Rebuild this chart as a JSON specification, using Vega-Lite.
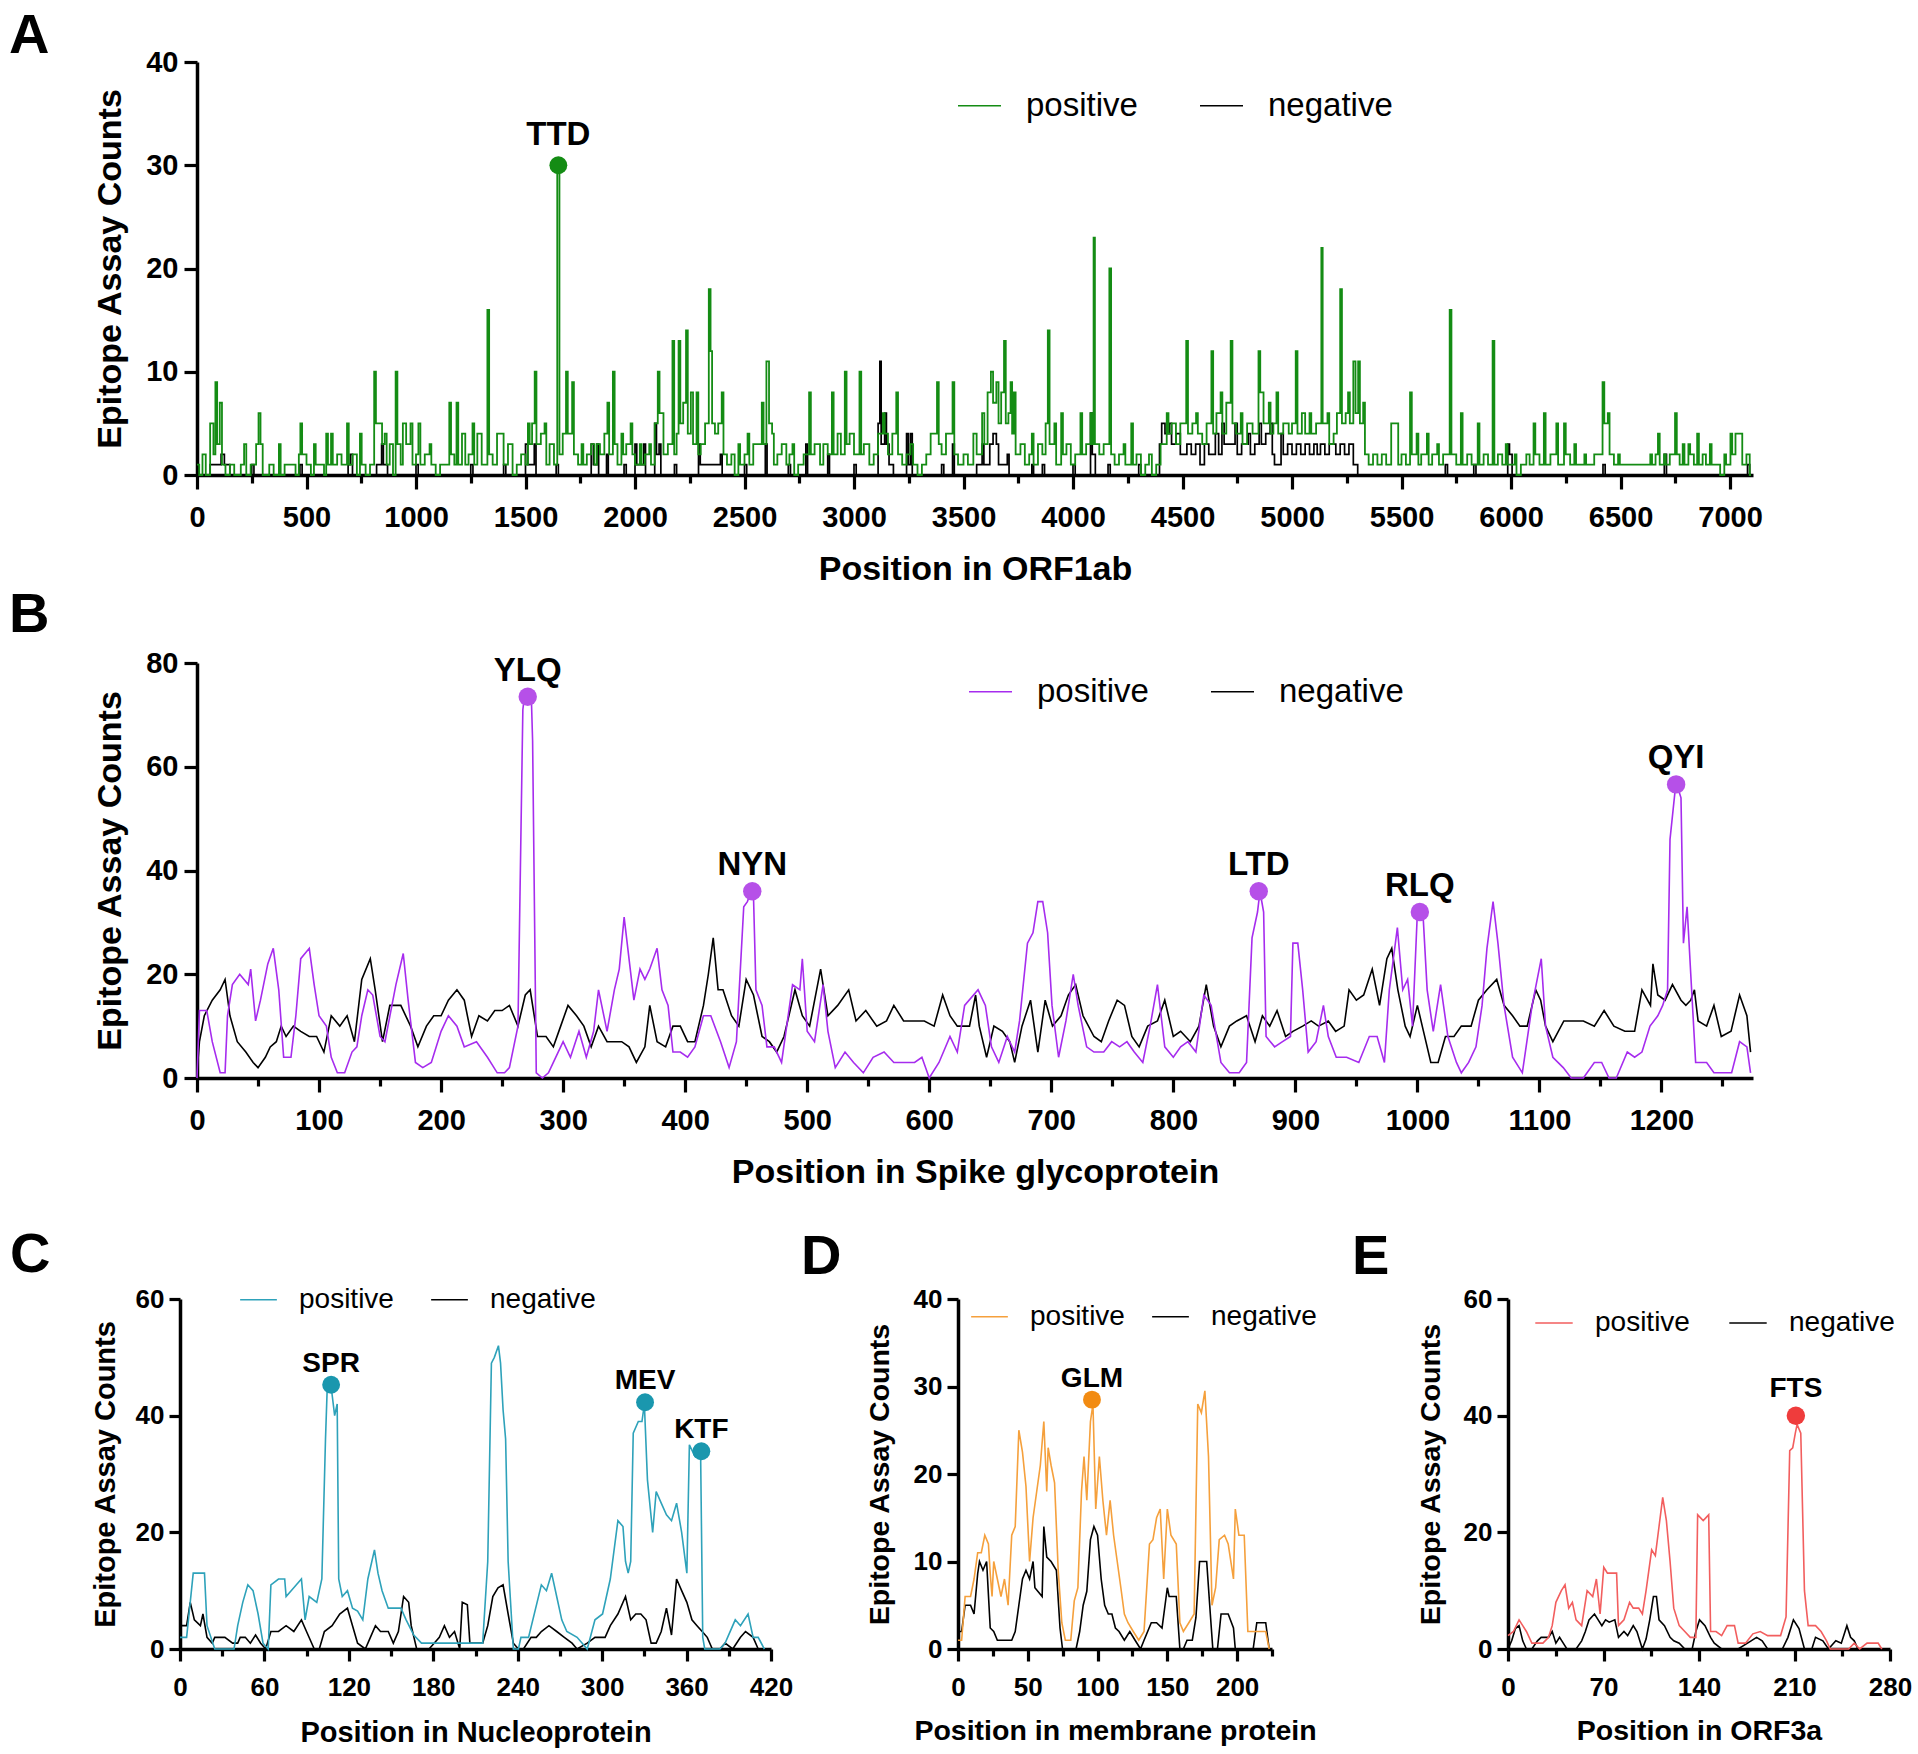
{
  "$schema": "https://vega.github.io/schema/vega-lite/v6.json",
  "background": "white",
  "padding": {"left": 9, "top": 8, "right": 5, "bottom": 5},
  "bounds": "flush",
  "spacing": 188,
  "config": {
    "font": "Liberation Sans",
    "view": {"stroke": null},
    "axis": {"grid": false, "domainColor": "#000000", "domainWidth": 3.5, "tickColor": "#000000", "tickWidth": 3.2, "labelColor": "#000000", "labelFontWeight": "bold", "titleColor": "#000000", "titleFontWeight": "bold", "labelFlush": false, "labelOverlap": false},
    "title": {"anchor": "start", "frame": "group", "fontSize": 56, "fontWeight": "bold", "color": "#000000"},
    "line": {"strokeWidth": 1.6}
  },
  "datasets": {
    "aPos": [
      {"x":0,"y":1},{"x":10,"y":0},{"x":25,"y":2},{"x":40,"y":0},{"x":60,"y":5},{"x":75,"y":2},{"x":84,"y":9},{"x":92,"y":3},{"x":104,"y":7},{"x":114,"y":1},{"x":130,"y":0},{"x":150,"y":1},{"x":170,"y":0},{"x":200,"y":1},{"x":215,"y":3},{"x":225,"y":0},{"x":245,"y":1},{"x":270,"y":3},{"x":281,"y":6},{"x":290,"y":3},{"x":300,"y":0},{"x":330,"y":1},{"x":350,"y":0},{"x":374,"y":3},{"x":382,"y":0},{"x":400,"y":1},{"x":450,"y":0},{"x":465,"y":2},{"x":472,"y":5},{"x":480,"y":2},{"x":500,"y":1},{"x":520,"y":0},{"x":534,"y":3},{"x":542,"y":1},{"x":580,"y":0},{"x":590,"y":4},{"x":598,"y":1},{"x":612,"y":4},{"x":620,"y":1},{"x":640,"y":2},{"x":660,"y":1},{"x":685,"y":5},{"x":693,"y":1},{"x":710,"y":2},{"x":730,"y":0},{"x":744,"y":4},{"x":752,"y":1},{"x":770,"y":0},{"x":790,"y":1},{"x":809,"y":10},{"x":817,"y":5},{"x":845,"y":3},{"x":857,"y":4},{"x":866,"y":1},{"x":880,"y":3},{"x":895,"y":0},{"x":907,"y":10},{"x":915,"y":3},{"x":930,"y":1},{"x":940,"y":5},{"x":955,"y":3},{"x":975,"y":5},{"x":984,"y":1},{"x":1000,"y":2},{"x":1011,"y":5},{"x":1020,"y":1},{"x":1040,"y":2},{"x":1062,"y":3},{"x":1070,"y":1},{"x":1090,"y":0},{"x":1110,"y":1},{"x":1152,"y":7},{"x":1160,"y":2},{"x":1175,"y":1},{"x":1185,"y":7},{"x":1193,"y":1},{"x":1210,"y":4},{"x":1225,"y":1},{"x":1240,"y":2},{"x":1258,"y":5},{"x":1266,"y":1},{"x":1280,"y":4},{"x":1300,"y":1},{"x":1326,"y":16},{"x":1334,"y":2},{"x":1350,"y":1},{"x":1370,"y":4},{"x":1400,"y":1},{"x":1420,"y":3},{"x":1441,"y":0},{"x":1460,"y":1},{"x":1480,"y":2},{"x":1500,"y":1},{"x":1511,"y":5},{"x":1519,"y":3},{"x":1530,"y":5},{"x":1542,"y":10},{"x":1550,"y":3},{"x":1570,"y":4},{"x":1587,"y":5},{"x":1595,"y":1},{"x":1610,"y":3},{"x":1630,"y":1},{"x":1645,"y":30},{"x":1655,"y":2},{"x":1670,"y":4},{"x":1685,"y":10},{"x":1693,"y":4},{"x":1713,"y":9},{"x":1721,"y":2},{"x":1740,"y":1},{"x":1756,"y":3},{"x":1764,"y":1},{"x":1780,"y":2},{"x":1800,"y":3},{"x":1815,"y":1},{"x":1826,"y":3},{"x":1840,"y":2},{"x":1860,"y":4},{"x":1874,"y":7},{"x":1882,"y":2},{"x":1899,"y":10},{"x":1907,"y":3},{"x":1920,"y":1},{"x":1938,"y":4},{"x":1946,"y":2},{"x":1960,"y":3},{"x":1980,"y":5},{"x":1988,"y":2},{"x":2000,"y":1},{"x":2022,"y":3},{"x":2030,"y":1},{"x":2045,"y":2},{"x":2065,"y":3},{"x":2073,"y":1},{"x":2090,"y":5},{"x":2104,"y":10},{"x":2112,"y":6},{"x":2130,"y":2},{"x":2150,"y":3},{"x":2171,"y":13},{"x":2179,"y":2},{"x":2190,"y":4},{"x":2199,"y":13},{"x":2207,"y":5},{"x":2220,"y":7},{"x":2233,"y":14},{"x":2241,"y":4},{"x":2255,"y":8},{"x":2265,"y":3},{"x":2281,"y":8},{"x":2289,"y":2},{"x":2300,"y":3},{"x":2320,"y":5},{"x":2337,"y":18},{"x":2345,"y":12},{"x":2352,"y":5},{"x":2365,"y":4},{"x":2380,"y":5},{"x":2396,"y":8},{"x":2404,"y":2},{"x":2420,"y":1},{"x":2440,"y":2},{"x":2455,"y":0},{"x":2472,"y":3},{"x":2480,"y":1},{"x":2500,"y":2},{"x":2514,"y":4},{"x":2522,"y":1},{"x":2540,"y":3},{"x":2579,"y":7},{"x":2587,"y":3},{"x":2600,"y":11},{"x":2612,"y":5},{"x":2626,"y":4},{"x":2634,"y":1},{"x":2650,"y":2},{"x":2670,"y":3},{"x":2691,"y":1},{"x":2705,"y":2},{"x":2719,"y":3},{"x":2727,"y":0},{"x":2745,"y":1},{"x":2770,"y":2},{"x":2795,"y":8},{"x":2803,"y":2},{"x":2820,"y":3},{"x":2845,"y":1},{"x":2860,"y":3},{"x":2880,"y":2},{"x":2899,"y":8},{"x":2907,"y":2},{"x":2925,"y":4},{"x":2940,"y":2},{"x":2958,"y":10},{"x":2966,"y":3},{"x":2980,"y":4},{"x":3000,"y":2},{"x":3025,"y":10},{"x":3033,"y":2},{"x":3045,"y":3},{"x":3070,"y":1},{"x":3090,"y":2},{"x":3110,"y":4},{"x":3132,"y":6},{"x":3140,"y":4},{"x":3155,"y":2},{"x":3175,"y":4},{"x":3193,"y":8},{"x":3201,"y":2},{"x":3220,"y":1},{"x":3240,"y":2},{"x":3258,"y":3},{"x":3270,"y":1},{"x":3290,"y":0},{"x":3310,"y":1},{"x":3330,"y":2},{"x":3350,"y":4},{"x":3379,"y":9},{"x":3387,"y":3},{"x":3400,"y":2},{"x":3420,"y":4},{"x":3450,"y":9},{"x":3458,"y":2},{"x":3475,"y":1},{"x":3500,"y":2},{"x":3520,"y":1},{"x":3545,"y":4},{"x":3560,"y":2},{"x":3585,"y":6},{"x":3595,"y":3},{"x":3610,"y":8},{"x":3625,"y":10},{"x":3635,"y":7},{"x":3650,"y":9},{"x":3660,"y":5},{"x":3672,"y":8},{"x":3685,"y":13},{"x":3693,"y":5},{"x":3705,"y":6},{"x":3715,"y":9},{"x":3722,"y":4},{"x":3730,"y":8},{"x":3738,"y":2},{"x":3760,"y":3},{"x":3780,"y":1},{"x":3800,"y":2},{"x":3812,"y":4},{"x":3820,"y":1},{"x":3840,"y":3},{"x":3860,"y":2},{"x":3875,"y":5},{"x":3885,"y":14},{"x":3893,"y":3},{"x":3915,"y":5},{"x":3923,"y":1},{"x":3946,"y":6},{"x":3954,"y":2},{"x":3970,"y":3},{"x":3990,"y":1},{"x":4010,"y":2},{"x":4034,"y":6},{"x":4042,"y":2},{"x":4060,"y":3},{"x":4080,"y":6},{"x":4088,"y":3},{"x":4094,"y":23},{"x":4100,"y":3},{"x":4120,"y":2},{"x":4140,"y":3},{"x":4166,"y":20},{"x":4174,"y":2},{"x":4190,"y":1},{"x":4210,"y":2},{"x":4231,"y":3},{"x":4239,"y":1},{"x":4266,"y":5},{"x":4274,"y":1},{"x":4290,"y":2},{"x":4310,"y":0},{"x":4330,"y":1},{"x":4347,"y":2},{"x":4360,"y":0},{"x":4380,"y":1},{"x":4400,"y":3},{"x":4428,"y":6},{"x":4436,"y":4},{"x":4450,"y":5},{"x":4470,"y":3},{"x":4490,"y":5},{"x":4517,"y":13},{"x":4525,"y":4},{"x":4545,"y":5},{"x":4562,"y":6},{"x":4570,"y":4},{"x":4590,"y":3},{"x":4610,"y":5},{"x":4632,"y":12},{"x":4640,"y":4},{"x":4655,"y":6},{"x":4674,"y":8},{"x":4682,"y":4},{"x":4700,"y":7},{"x":4720,"y":13},{"x":4728,"y":5},{"x":4745,"y":4},{"x":4766,"y":6},{"x":4774,"y":3},{"x":4795,"y":5},{"x":4820,"y":4},{"x":4847,"y":12},{"x":4855,"y":8},{"x":4870,"y":5},{"x":4894,"y":7},{"x":4902,"y":4},{"x":4915,"y":5},{"x":4929,"y":8},{"x":4937,"y":4},{"x":4960,"y":5},{"x":4985,"y":4},{"x":5000,"y":5},{"x":5017,"y":12},{"x":5025,"y":4},{"x":5045,"y":6},{"x":5060,"y":4},{"x":5080,"y":6},{"x":5088,"y":4},{"x":5110,"y":5},{"x":5134,"y":22},{"x":5140,"y":5},{"x":5162,"y":6},{"x":5170,"y":3},{"x":5190,"y":4},{"x":5205,"y":6},{"x":5220,"y":18},{"x":5228,"y":5},{"x":5245,"y":6},{"x":5256,"y":8},{"x":5264,"y":5},{"x":5280,"y":11},{"x":5290,"y":6},{"x":5302,"y":11},{"x":5310,"y":5},{"x":5325,"y":7},{"x":5333,"y":2},{"x":5350,"y":1},{"x":5370,"y":2},{"x":5390,"y":1},{"x":5410,"y":2},{"x":5430,"y":1},{"x":5453,"y":5},{"x":5485,"y":1},{"x":5500,"y":2},{"x":5520,"y":1},{"x":5539,"y":8},{"x":5547,"y":2},{"x":5569,"y":4},{"x":5577,"y":1},{"x":5590,"y":2},{"x":5616,"y":4},{"x":5624,"y":1},{"x":5640,"y":2},{"x":5663,"y":3},{"x":5671,"y":1},{"x":5690,"y":2},{"x":5720,"y":16},{"x":5728,"y":2},{"x":5750,"y":1},{"x":5771,"y":6},{"x":5779,"y":1},{"x":5800,"y":2},{"x":5820,"y":1},{"x":5848,"y":5},{"x":5856,"y":1},{"x":5875,"y":2},{"x":5895,"y":1},{"x":5916,"y":13},{"x":5924,"y":1},{"x":5940,"y":2},{"x":5960,"y":1},{"x":5976,"y":3},{"x":5984,"y":1},{"x":6017,"y":2},{"x":6025,"y":0},{"x":6045,"y":1},{"x":6070,"y":2},{"x":6085,"y":1},{"x":6103,"y":5},{"x":6111,"y":2},{"x":6130,"y":1},{"x":6150,"y":6},{"x":6158,"y":1},{"x":6180,"y":2},{"x":6207,"y":5},{"x":6215,"y":1},{"x":6242,"y":5},{"x":6250,"y":2},{"x":6270,"y":1},{"x":6289,"y":3},{"x":6297,"y":1},{"x":6335,"y":2},{"x":6343,"y":1},{"x":6380,"y":2},{"x":6418,"y":9},{"x":6426,"y":5},{"x":6442,"y":6},{"x":6450,"y":2},{"x":6470,"y":1},{"x":6489,"y":2},{"x":6497,"y":1},{"x":6636,"y":2},{"x":6644,"y":1},{"x":6660,"y":2},{"x":6671,"y":4},{"x":6679,"y":1},{"x":6699,"y":2},{"x":6707,"y":1},{"x":6725,"y":2},{"x":6749,"y":6},{"x":6757,"y":2},{"x":6770,"y":1},{"x":6784,"y":3},{"x":6792,"y":1},{"x":6810,"y":3},{"x":6818,"y":2},{"x":6835,"y":1},{"x":6850,"y":4},{"x":6858,"y":1},{"x":6875,"y":2},{"x":6890,"y":1},{"x":6908,"y":3},{"x":6916,"y":1},{"x":6955,"y":0},{"x":6974,"y":2},{"x":6982,"y":1},{"x":7002,"y":4},{"x":7010,"y":2},{"x":7025,"y":4},{"x":7056,"y":1},{"x":7075,"y":2},{"x":7090,"y":0},{"x":7096,"y":0}
    ],
    "aNeg": [
      {"x":0,"y":0},{"x":60,"y":1},{"x":110,"y":2},{"x":125,"y":1},{"x":150,"y":0},{"x":250,"y":1},{"x":260,"y":0},{"x":470,"y":1},{"x":480,"y":0},{"x":690,"y":1},{"x":700,"y":2},{"x":710,"y":0},{"x":820,"y":1},{"x":843,"y":3},{"x":851,"y":1},{"x":870,"y":0},{"x":1000,"y":1},{"x":1010,"y":0},{"x":1250,"y":1},{"x":1260,"y":0},{"x":1400,"y":1},{"x":1410,"y":0},{"x":1500,"y":3},{"x":1510,"y":1},{"x":1540,"y":3},{"x":1548,"y":0},{"x":1640,"y":1},{"x":1650,"y":0},{"x":1800,"y":3},{"x":1810,"y":1},{"x":1826,"y":3},{"x":1834,"y":0},{"x":1870,"y":2},{"x":1878,"y":0},{"x":1950,"y":1},{"x":1960,"y":0},{"x":2000,"y":3},{"x":2008,"y":1},{"x":2040,"y":3},{"x":2048,"y":0},{"x":2090,"y":5},{"x":2098,"y":2},{"x":2110,"y":3},{"x":2118,"y":0},{"x":2180,"y":1},{"x":2190,"y":0},{"x":2290,"y":3},{"x":2298,"y":1},{"x":2390,"y":2},{"x":2398,"y":0},{"x":2500,"y":1},{"x":2510,"y":0},{"x":2595,"y":3},{"x":2603,"y":0},{"x":2700,"y":1},{"x":2710,"y":0},{"x":2780,"y":3},{"x":2788,"y":0},{"x":2880,"y":2},{"x":2888,"y":0},{"x":3000,"y":1},{"x":3010,"y":0},{"x":3110,"y":5},{"x":3118,"y":11},{"x":3124,"y":3},{"x":3140,"y":6},{"x":3148,"y":3},{"x":3160,"y":1},{"x":3180,"y":0},{"x":3240,"y":4},{"x":3248,"y":1},{"x":3258,"y":4},{"x":3266,"y":0},{"x":3400,"y":1},{"x":3410,"y":0},{"x":3450,"y":3},{"x":3458,"y":0},{"x":3560,"y":1},{"x":3585,"y":3},{"x":3593,"y":1},{"x":3620,"y":3},{"x":3635,"y":4},{"x":3650,"y":3},{"x":3660,"y":1},{"x":3700,"y":2},{"x":3708,"y":0},{"x":3812,"y":1},{"x":3820,"y":0},{"x":3860,"y":1},{"x":3870,"y":0},{"x":4000,"y":1},{"x":4010,"y":0},{"x":4080,"y":6},{"x":4088,"y":2},{"x":4102,"y":0},{"x":4160,"y":1},{"x":4170,"y":0},{"x":4300,"y":1},{"x":4310,"y":0},{"x":4395,"y":3},{"x":4405,"y":5},{"x":4420,"y":4},{"x":4440,"y":5},{"x":4450,"y":3},{"x":4470,"y":4},{"x":4490,"y":2},{"x":4520,"y":3},{"x":4540,"y":2},{"x":4560,"y":3},{"x":4580,"y":1},{"x":4600,"y":3},{"x":4620,"y":2},{"x":4650,"y":4},{"x":4665,"y":2},{"x":4680,"y":5},{"x":4690,"y":3},{"x":4740,"y":5},{"x":4750,"y":2},{"x":4770,"y":3},{"x":4800,"y":4},{"x":4810,"y":2},{"x":4830,"y":3},{"x":4850,"y":5},{"x":4860,"y":3},{"x":4880,"y":4},{"x":4900,"y":5},{"x":4910,"y":2},{"x":4920,"y":1},{"x":4950,"y":4},{"x":4960,"y":2},{"x":4980,"y":3},{"x":5000,"y":2},{"x":5020,"y":3},{"x":5040,"y":2},{"x":5060,"y":3},{"x":5080,"y":2},{"x":5100,"y":3},{"x":5115,"y":2},{"x":5130,"y":3},{"x":5150,"y":2},{"x":5170,"y":3},{"x":5200,"y":2},{"x":5220,"y":3},{"x":5240,"y":2},{"x":5260,"y":3},{"x":5280,"y":1},{"x":5300,"y":0},{"x":5700,"y":1},{"x":5710,"y":0},{"x":5830,"y":1},{"x":5840,"y":0},{"x":5985,"y":3},{"x":5993,"y":2},{"x":6005,"y":0},{"x":6420,"y":1},{"x":6430,"y":0},{"x":6700,"y":2},{"x":6710,"y":0},{"x":7080,"y":1},{"x":7090,"y":0},{"x":7096,"y":0}
    ],
    "bPos": [
      {"x":0,"y":0},{"x":2,"y":13},{"x":8,"y":13},{"x":12.5,"y":7},{"x":19,"y":1},{"x":23,"y":1},{"x":25,"y":12},{"x":29,"y":18},{"x":35,"y":20},{"x":42,"y":18},{"x":44,"y":21},{"x":48,"y":11},{"x":52,"y":15},{"x":58,"y":22},{"x":62.5,"y":25},{"x":67,"y":17},{"x":71,"y":4},{"x":77,"y":4},{"x":81,"y":12},{"x":85,"y":23},{"x":92,"y":25},{"x":96,"y":18},{"x":100,"y":12},{"x":106,"y":10},{"x":110,"y":4},{"x":115,"y":1},{"x":121,"y":1},{"x":127,"y":5},{"x":131,"y":6},{"x":135,"y":12},{"x":140,"y":17},{"x":144,"y":16},{"x":150,"y":8},{"x":154,"y":7},{"x":163,"y":18},{"x":169,"y":24},{"x":173,"y":15},{"x":179,"y":3},{"x":185,"y":2},{"x":192,"y":3},{"x":200,"y":9},{"x":206,"y":12},{"x":213,"y":10},{"x":219,"y":6},{"x":229,"y":7},{"x":238,"y":4},{"x":246,"y":1},{"x":252,"y":1},{"x":256,"y":2},{"x":263,"y":10},{"x":267,"y":71},{"x":268,"y":73},{"x":274,"y":73},{"x":275,"y":65},{"x":278,"y":1},{"x":283,"y":0},{"x":288,"y":1},{"x":292,"y":3},{"x":300,"y":7},{"x":306,"y":4},{"x":313,"y":9},{"x":319,"y":4},{"x":325,"y":9},{"x":329,"y":17},{"x":336,"y":9},{"x":342,"y":17},{"x":346,"y":21},{"x":350,"y":31},{"x":353,"y":25},{"x":358,"y":15},{"x":363,"y":21},{"x":367,"y":19},{"x":371,"y":21},{"x":377,"y":25},{"x":381,"y":17},{"x":386,"y":14},{"x":390,"y":5},{"x":396,"y":5},{"x":402,"y":4},{"x":408,"y":6},{"x":415,"y":12},{"x":421,"y":12},{"x":429,"y":7},{"x":436,"y":2},{"x":442,"y":7},{"x":448,"y":33},{"x":451,"y":34},{"x":454,"y":36},{"x":456,"y":35},{"x":458,"y":17},{"x":463,"y":14},{"x":467,"y":6},{"x":473,"y":6},{"x":479,"y":3},{"x":488,"y":18},{"x":494,"y":17},{"x":496,"y":23},{"x":500,"y":9},{"x":506,"y":7},{"x":513,"y":18},{"x":517,"y":9},{"x":523,"y":2},{"x":531,"y":5},{"x":538,"y":3},{"x":546,"y":1},{"x":554,"y":4},{"x":563,"y":5},{"x":571,"y":3},{"x":579,"y":3},{"x":588,"y":3},{"x":594,"y":4},{"x":600,"y":0},{"x":608,"y":3},{"x":617,"y":8},{"x":623,"y":5},{"x":629,"y":14},{"x":640,"y":17},{"x":646,"y":14},{"x":651,"y":6},{"x":657,"y":3},{"x":664,"y":8},{"x":670,"y":5},{"x":674,"y":11},{"x":680.5,"y":26},{"x":685,"y":28},{"x":689,"y":34},{"x":693,"y":34},{"x":697,"y":28},{"x":700.6,"y":14},{"x":706,"y":4},{"x":712,"y":11},{"x":718,"y":20},{"x":722,"y":14},{"x":729,"y":6},{"x":735,"y":5},{"x":743,"y":5},{"x":749.5,"y":7},{"x":756,"y":6},{"x":762,"y":7},{"x":768,"y":5},{"x":775,"y":3},{"x":781,"y":10},{"x":787,"y":18},{"x":793,"y":6},{"x":800,"y":4},{"x":806,"y":6},{"x":812,"y":7},{"x":818.5,"y":5},{"x":825,"y":16},{"x":831,"y":14},{"x":839,"y":3},{"x":846,"y":1},{"x":854,"y":1},{"x":860,"y":3},{"x":864.5,"y":27},{"x":869,"y":32},{"x":871,"y":36},{"x":874,"y":32},{"x":876,"y":8},{"x":883,"y":6},{"x":889.5,"y":7},{"x":896,"y":8},{"x":898,"y":26},{"x":902,"y":26},{"x":906,"y":17},{"x":910.5,"y":5},{"x":917,"y":7},{"x":923,"y":14},{"x":927,"y":8},{"x":933.5,"y":4},{"x":942,"y":4},{"x":952,"y":3},{"x":960.6,"y":8},{"x":967,"y":8},{"x":973,"y":3},{"x":977,"y":17},{"x":983.6,"y":29},{"x":988,"y":17},{"x":992,"y":19},{"x":996,"y":10},{"x":1000,"y":32},{"x":1004.5,"y":32},{"x":1008,"y":17},{"x":1013,"y":9},{"x":1019,"y":18},{"x":1025,"y":8},{"x":1032,"y":3},{"x":1036,"y":1},{"x":1042,"y":3},{"x":1048,"y":6},{"x":1053,"y":14},{"x":1057,"y":25},{"x":1062,"y":34},{"x":1066,"y":26},{"x":1071,"y":14},{"x":1078,"y":4},{"x":1086,"y":1},{"x":1094,"y":14},{"x":1101.5,"y":23},{"x":1105,"y":10},{"x":1111,"y":4},{"x":1119.5,"y":2},{"x":1126,"y":0},{"x":1136,"y":0},{"x":1145,"y":3},{"x":1151,"y":3},{"x":1157,"y":0},{"x":1163,"y":0},{"x":1172,"y":5},{"x":1178,"y":4},{"x":1184,"y":5},{"x":1190.6,"y":10},{"x":1197,"y":12},{"x":1201,"y":14},{"x":1205,"y":17},{"x":1207,"y":46},{"x":1211,"y":55},{"x":1212,"y":57},{"x":1216,"y":54},{"x":1218,"y":26},{"x":1221,"y":33},{"x":1224,"y":20},{"x":1228,"y":3},{"x":1237,"y":3},{"x":1243,"y":1},{"x":1257.5,"y":1},{"x":1264,"y":7},{"x":1270,"y":6},{"x":1273,"y":1}
    ],
    "bNeg": [
      {"x":0,"y":1},{"x":2,"y":7},{"x":6,"y":12},{"x":12.5,"y":15},{"x":19,"y":17},{"x":23,"y":19},{"x":27,"y":12},{"x":33,"y":7},{"x":40,"y":5},{"x":46,"y":3},{"x":50,"y":2},{"x":56,"y":4},{"x":60,"y":6},{"x":65,"y":7},{"x":69,"y":10},{"x":73,"y":8},{"x":79,"y":10},{"x":85,"y":9},{"x":92,"y":8},{"x":98,"y":8},{"x":104,"y":5},{"x":110,"y":12},{"x":117,"y":10},{"x":123,"y":12},{"x":129,"y":7},{"x":135,"y":19},{"x":142,"y":23},{"x":146,"y":17},{"x":152,"y":7},{"x":158,"y":14},{"x":167,"y":14},{"x":175,"y":10},{"x":181,"y":6},{"x":188,"y":10},{"x":194,"y":12},{"x":200,"y":12},{"x":206,"y":15},{"x":213,"y":17},{"x":219,"y":15},{"x":225,"y":8},{"x":231,"y":12},{"x":238,"y":11},{"x":244,"y":13},{"x":250,"y":13},{"x":256,"y":14},{"x":263,"y":10},{"x":269,"y":16},{"x":273,"y":17},{"x":279,"y":8},{"x":286,"y":8},{"x":292,"y":6},{"x":298,"y":10},{"x":304,"y":14},{"x":311,"y":12},{"x":317,"y":10},{"x":323,"y":6},{"x":329,"y":10},{"x":336,"y":7},{"x":348,"y":7},{"x":354,"y":6},{"x":360,"y":3},{"x":367,"y":6},{"x":371,"y":14},{"x":377,"y":7},{"x":384,"y":6},{"x":390,"y":10},{"x":396,"y":10},{"x":402,"y":7},{"x":408,"y":7},{"x":415,"y":14},{"x":419,"y":20},{"x":423,"y":27},{"x":427,"y":17},{"x":431,"y":17},{"x":438,"y":12},{"x":444,"y":10},{"x":450,"y":19},{"x":456,"y":16},{"x":463,"y":8},{"x":469,"y":7},{"x":475,"y":5},{"x":481,"y":8},{"x":490,"y":17},{"x":496,"y":12},{"x":502,"y":10},{"x":511,"y":21},{"x":517,"y":12},{"x":525,"y":14},{"x":534,"y":17},{"x":540,"y":11},{"x":548,"y":13},{"x":557,"y":10},{"x":565,"y":11},{"x":571,"y":14},{"x":579,"y":11},{"x":596,"y":11},{"x":604,"y":10},{"x":611,"y":16},{"x":617,"y":12},{"x":623,"y":10},{"x":633,"y":10},{"x":638,"y":16},{"x":641,"y":10},{"x":647,"y":4},{"x":653,"y":10},{"x":660,"y":9},{"x":666,"y":7},{"x":670,"y":3},{"x":676,"y":10},{"x":683,"y":15},{"x":689,"y":5},{"x":695,"y":15},{"x":701,"y":10},{"x":708,"y":12},{"x":714,"y":16},{"x":720,"y":18},{"x":726,"y":12},{"x":735,"y":8},{"x":741,"y":7},{"x":747,"y":11},{"x":754,"y":15},{"x":760,"y":14},{"x":766,"y":8},{"x":772,"y":6},{"x":779,"y":10},{"x":787,"y":11},{"x":793,"y":15},{"x":800,"y":8},{"x":806,"y":9},{"x":814,"y":7},{"x":821,"y":10},{"x":827,"y":18},{"x":833,"y":10},{"x":839,"y":6},{"x":846,"y":10},{"x":852,"y":11},{"x":860,"y":12},{"x":867,"y":7},{"x":873,"y":12},{"x":879,"y":10},{"x":885,"y":13},{"x":892,"y":8},{"x":898,"y":9},{"x":906,"y":10},{"x":913,"y":11},{"x":919,"y":10},{"x":927,"y":11},{"x":933,"y":9},{"x":940,"y":10},{"x":944,"y":17},{"x":950,"y":15},{"x":956,"y":16},{"x":963,"y":21},{"x":969,"y":14},{"x":975,"y":23},{"x":979,"y":25},{"x":984,"y":17},{"x":990,"y":10},{"x":994,"y":8},{"x":1000,"y":14},{"x":1005,"y":9},{"x":1011,"y":3},{"x":1017,"y":3},{"x":1023,"y":8},{"x":1030,"y":8},{"x":1036,"y":10},{"x":1044,"y":10},{"x":1050,"y":15},{"x":1057,"y":17},{"x":1065,"y":19},{"x":1071,"y":14},{"x":1078,"y":12},{"x":1084,"y":10},{"x":1090,"y":10},{"x":1097,"y":17},{"x":1101,"y":15},{"x":1105,"y":10},{"x":1111,"y":7},{"x":1120,"y":11},{"x":1136,"y":11},{"x":1145,"y":10},{"x":1153,"y":13},{"x":1161,"y":10},{"x":1170,"y":9},{"x":1178,"y":9},{"x":1184,"y":17},{"x":1191,"y":14},{"x":1193,"y":22},{"x":1197,"y":16},{"x":1203,"y":15},{"x":1209,"y":18},{"x":1216,"y":15},{"x":1220,"y":14},{"x":1224,"y":15},{"x":1227,"y":17},{"x":1230,"y":11},{"x":1237,"y":10},{"x":1243,"y":14},{"x":1249,"y":8},{"x":1257,"y":9},{"x":1264,"y":16},{"x":1270,"y":12},{"x":1273,"y":5}
    ],
    "bMarks": [
      {"x":271,"y":73.5,"label":"YLQ"},{"x":455,"y":36,"label":"NYN"},{"x":870,"y":36,"label":"LTD"},{"x":1002,"y":32,"label":"RLQ"},{"x":1212,"y":56.6,"label":"QYI"}
    ],
    "cPos": [
      {"x":0,"y":2},{"x":4.7,"y":2},{"x":9.4,"y":13},{"x":17.4,"y":13},{"x":19.2,"y":4},{"x":24.7,"y":0},{"x":38.4,"y":0},{"x":41,"y":4},{"x":44.6,"y":8},{"x":48.2,"y":11},{"x":51.9,"y":10},{"x":55.5,"y":6},{"x":59,"y":1},{"x":62.7,"y":0},{"x":64.6,"y":11},{"x":70,"y":12},{"x":74.4,"y":12},{"x":75.4,"y":9},{"x":79,"y":10},{"x":82.7,"y":11},{"x":86.3,"y":12},{"x":88.9,"y":5},{"x":91.8,"y":9},{"x":97.2,"y":8},{"x":100.8,"y":12},{"x":103.4,"y":36},{"x":104.8,"y":46},{"x":107.4,"y":45},{"x":109.9,"y":40},{"x":111.7,"y":42},{"x":112.8,"y":12},{"x":115.3,"y":9},{"x":119,"y":10},{"x":122.6,"y":7},{"x":126.2,"y":6.5},{"x":129.9,"y":5},{"x":133.5,"y":12},{"x":138.2,"y":17},{"x":140.7,"y":13},{"x":143.6,"y":10},{"x":148,"y":7},{"x":157,"y":7},{"x":160.7,"y":5},{"x":166.1,"y":2.4},{"x":171.6,"y":1},{"x":215.1,"y":1},{"x":218.7,"y":15},{"x":221.3,"y":49},{"x":223.4,"y":50},{"x":226.3,"y":52},{"x":227.8,"y":49},{"x":229.6,"y":41},{"x":231.4,"y":36},{"x":233.2,"y":15},{"x":236.9,"y":0},{"x":240.5,"y":0},{"x":242.3,"y":2},{"x":247.7,"y":2},{"x":256.8,"y":11},{"x":260.4,"y":10},{"x":264.1,"y":13},{"x":267.7,"y":9},{"x":271.3,"y":5},{"x":274.9,"y":3},{"x":282.2,"y":2},{"x":289.4,"y":0},{"x":294.9,"y":5},{"x":300.3,"y":6},{"x":305.8,"y":12},{"x":311.2,"y":22},{"x":314.8,"y":21},{"x":316.6,"y":15},{"x":318.5,"y":13},{"x":320.3,"y":15},{"x":322.1,"y":37},{"x":325.7,"y":39},{"x":328.3,"y":39},{"x":330,"y":42},{"x":332.2,"y":29},{"x":335.9,"y":20},{"x":338.4,"y":27},{"x":342,"y":25},{"x":345.7,"y":23},{"x":349.3,"y":22},{"x":352.9,"y":25},{"x":356.5,"y":20},{"x":360.2,"y":13},{"x":362,"y":35},{"x":366,"y":33},{"x":370,"y":33},{"x":371.5,"y":2},{"x":372.9,"y":0},{"x":383.7,"y":0},{"x":387.4,"y":1},{"x":394.6,"y":5},{"x":398.3,"y":4},{"x":403.7,"y":6},{"x":407.3,"y":2},{"x":410.9,"y":2},{"x":415.3,"y":0}
    ],
    "cNeg": [
      {"x":0,"y":4},{"x":4.7,"y":4},{"x":7.3,"y":8},{"x":10.2,"y":5},{"x":14.5,"y":4},{"x":16.3,"y":6},{"x":19.2,"y":2},{"x":22.9,"y":1},{"x":24.7,"y":2},{"x":31.9,"y":2},{"x":37.4,"y":1},{"x":41,"y":1},{"x":42.8,"y":2},{"x":46.4,"y":2},{"x":50,"y":1},{"x":53.7,"y":2.4},{"x":57.3,"y":1},{"x":60.9,"y":0},{"x":64.6,"y":3},{"x":70,"y":3},{"x":75.4,"y":4},{"x":80.9,"y":3},{"x":86.3,"y":5},{"x":89.9,"y":3},{"x":95.4,"y":0},{"x":99,"y":0},{"x":102.6,"y":3},{"x":108.1,"y":4},{"x":113.5,"y":6},{"x":119,"y":7},{"x":122.6,"y":4},{"x":126.2,"y":1},{"x":131.7,"y":0},{"x":135.3,"y":2},{"x":138.9,"y":4},{"x":142.5,"y":3},{"x":148,"y":3},{"x":151.6,"y":1},{"x":155.2,"y":3},{"x":158.9,"y":9},{"x":162.5,"y":8},{"x":164.3,"y":4},{"x":168.2,"y":0},{"x":177,"y":0},{"x":180.6,"y":1},{"x":184.3,"y":2},{"x":187.9,"y":4},{"x":191.5,"y":2},{"x":195.1,"y":3},{"x":198.8,"y":0},{"x":200.6,"y":8},{"x":204.2,"y":7.6},{"x":206,"y":1},{"x":215.1,"y":1},{"x":218.7,"y":4},{"x":222.3,"y":9},{"x":226,"y":10.5},{"x":229.6,"y":11},{"x":233.2,"y":6},{"x":236.9,"y":1},{"x":240.5,"y":0},{"x":244.1,"y":0},{"x":249.5,"y":2},{"x":253.2,"y":2},{"x":256.8,"y":3},{"x":262.2,"y":4},{"x":267.7,"y":3},{"x":273.1,"y":2},{"x":278.6,"y":1},{"x":282.2,"y":0},{"x":289.4,"y":1},{"x":294.9,"y":2},{"x":302.1,"y":2},{"x":305.8,"y":4},{"x":311.2,"y":6},{"x":316.6,"y":9},{"x":320.3,"y":5},{"x":323.9,"y":6},{"x":327.5,"y":6},{"x":331.2,"y":5},{"x":334.8,"y":1},{"x":338.4,"y":1},{"x":342,"y":3},{"x":345.7,"y":7},{"x":349.3,"y":2.4},{"x":352.9,"y":12},{"x":356.5,"y":10},{"x":360.2,"y":8},{"x":363.8,"y":5},{"x":367.4,"y":4},{"x":371.1,"y":3},{"x":374.7,"y":2},{"x":378.3,"y":0},{"x":383.7,"y":0},{"x":387.4,"y":1},{"x":392.8,"y":0},{"x":398.3,"y":2},{"x":401.9,"y":3},{"x":407.3,"y":2},{"x":410.9,"y":0}
    ],
    "cMarks": [
      {"x":107.4,"y":45.3,"label":"SPR"},{"x":330.5,"y":42.3,"label":"MEV"},{"x":370.5,"y":33.9,"label":"KTF"}
    ],
    "dPos": [
      {"x":0,"y":1},{"x":2.6,"y":1},{"x":5.1,"y":6},{"x":9,"y":6},{"x":11.5,"y":8},{"x":14.1,"y":11},{"x":16.7,"y":11},{"x":19.2,"y":13},{"x":21.8,"y":12},{"x":23.1,"y":8.6},{"x":24.4,"y":6},{"x":25.6,"y":10},{"x":28.2,"y":8},{"x":30.8,"y":6},{"x":33.3,"y":8},{"x":35.9,"y":5},{"x":38.5,"y":13},{"x":41,"y":14},{"x":43.6,"y":25},{"x":46.2,"y":22.5},{"x":48.7,"y":18.6},{"x":51.3,"y":10},{"x":53.8,"y":15},{"x":56.4,"y":18},{"x":59,"y":21},{"x":61.5,"y":26},{"x":63.6,"y":18},{"x":64.6,"y":23},{"x":66.7,"y":21},{"x":69.2,"y":19},{"x":71.8,"y":9},{"x":74.4,"y":3},{"x":76.9,"y":1},{"x":80.8,"y":1},{"x":83.3,"y":5.5},{"x":85.9,"y":7},{"x":88.5,"y":18},{"x":90.3,"y":22},{"x":92.3,"y":17},{"x":94.9,"y":26},{"x":96.7,"y":28},{"x":98.7,"y":16},{"x":101.3,"y":22},{"x":103.8,"y":17},{"x":106.4,"y":13},{"x":109,"y":17},{"x":111.5,"y":13},{"x":114.1,"y":10},{"x":116.7,"y":7},{"x":119.2,"y":4},{"x":121.8,"y":3},{"x":125.6,"y":2},{"x":129.5,"y":1},{"x":133.3,"y":2},{"x":137.2,"y":12},{"x":139.7,"y":12.5},{"x":142.3,"y":15},{"x":144.9,"y":16},{"x":147.4,"y":8},{"x":150,"y":16},{"x":152.6,"y":13},{"x":156.4,"y":12},{"x":159,"y":3},{"x":161.5,"y":2},{"x":165.4,"y":3},{"x":169.2,"y":4},{"x":171.8,"y":28},{"x":174.4,"y":27},{"x":176.9,"y":29.5},{"x":179.5,"y":22},{"x":182,"y":5},{"x":184.6,"y":7},{"x":187.2,"y":12.5},{"x":191,"y":13},{"x":193.6,"y":12},{"x":197.4,"y":8},{"x":198.7,"y":16},{"x":201.3,"y":13},{"x":205.1,"y":13},{"x":207.7,"y":2},{"x":220.5,"y":2},{"x":223,"y":0}
    ],
    "dNeg": [
      {"x":0,"y":2},{"x":2.6,"y":2},{"x":5.1,"y":5},{"x":9,"y":5},{"x":11.5,"y":4},{"x":14.1,"y":8.6},{"x":15.4,"y":10},{"x":17.9,"y":9},{"x":20.5,"y":10},{"x":23.1,"y":2.4},{"x":25.6,"y":2},{"x":28.2,"y":1},{"x":38.5,"y":1},{"x":41,"y":2},{"x":43.6,"y":5},{"x":46.2,"y":8},{"x":48.7,"y":9},{"x":51.3,"y":8},{"x":53.8,"y":10},{"x":55.1,"y":7},{"x":60.3,"y":6},{"x":61.5,"y":14},{"x":63.6,"y":10.5},{"x":66.7,"y":10},{"x":70.5,"y":9},{"x":73.1,"y":2.4},{"x":74.9,"y":0},{"x":84.6,"y":0},{"x":87.2,"y":2},{"x":89.7,"y":5},{"x":92.3,"y":6.6},{"x":94.9,"y":12.5},{"x":97.4,"y":14},{"x":100,"y":13},{"x":102.6,"y":8},{"x":105.1,"y":5},{"x":107.7,"y":4},{"x":110.3,"y":4},{"x":112.8,"y":2.4},{"x":115.4,"y":2},{"x":119.2,"y":1},{"x":123.1,"y":2},{"x":126.9,"y":1},{"x":130.8,"y":0},{"x":133.3,"y":1},{"x":135.9,"y":2},{"x":138.5,"y":3},{"x":142.3,"y":3},{"x":146.2,"y":2.4},{"x":150,"y":7},{"x":151.3,"y":6},{"x":156.4,"y":6},{"x":159,"y":0},{"x":161.5,"y":0},{"x":164.1,"y":1},{"x":167.9,"y":1},{"x":170.5,"y":3.6},{"x":173.1,"y":10},{"x":178.2,"y":10},{"x":180.8,"y":4},{"x":182.6,"y":0},{"x":185.9,"y":0},{"x":188.5,"y":4},{"x":193.6,"y":4},{"x":197.4,"y":2.4},{"x":198.7,"y":0},{"x":211.5,"y":0},{"x":214.1,"y":3},{"x":220.5,"y":3},{"x":223,"y":0}
    ],
    "ePos": [
      {"x":0,"y":2.3},{"x":4,"y":3},{"x":8.1,"y":5},{"x":10.8,"y":4},{"x":13.5,"y":3},{"x":17.5,"y":1},{"x":25.6,"y":1},{"x":29.7,"y":2},{"x":32.4,"y":4},{"x":35.1,"y":8},{"x":39.1,"y":10},{"x":41.8,"y":11},{"x":44.5,"y":7},{"x":47.2,"y":8},{"x":49.9,"y":5},{"x":54,"y":4},{"x":58,"y":10},{"x":62.1,"y":9},{"x":64.8,"y":12},{"x":67.5,"y":6},{"x":70.2,"y":14},{"x":72.9,"y":13},{"x":79.6,"y":13},{"x":81,"y":4},{"x":85,"y":5},{"x":89.1,"y":8},{"x":91.8,"y":7},{"x":95.8,"y":7},{"x":98.5,"y":6},{"x":101.2,"y":10},{"x":105.3,"y":17},{"x":108,"y":16},{"x":110.7,"y":21},{"x":113.4,"y":26},{"x":116.1,"y":22},{"x":118.8,"y":15},{"x":121.5,"y":7},{"x":125.5,"y":4},{"x":129.6,"y":3},{"x":133.6,"y":2},{"x":137.7,"y":2},{"x":139,"y":23},{"x":143.1,"y":22},{"x":147.1,"y":23},{"x":148.5,"y":3},{"x":152.5,"y":3},{"x":156.6,"y":2.3},{"x":160.6,"y":4},{"x":166,"y":4},{"x":168.7,"y":1},{"x":174.1,"y":1},{"x":179.5,"y":2.6},{"x":184.9,"y":3},{"x":190.3,"y":2.3},{"x":199.8,"y":2.3},{"x":203.8,"y":5.5},{"x":206.5,"y":34},{"x":208.7,"y":34.5},{"x":210.6,"y":37},{"x":211.9,"y":38.5},{"x":214.6,"y":37},{"x":217.3,"y":10},{"x":220,"y":4},{"x":225.4,"y":4},{"x":229.5,"y":3},{"x":233.5,"y":1.4},{"x":236.2,"y":0},{"x":249.7,"y":0},{"x":253.8,"y":1},{"x":257.8,"y":0},{"x":263.2,"y":1},{"x":271.3,"y":1},{"x":274,"y":0}
    ],
    "eNeg": [
      {"x":0,"y":0},{"x":2.7,"y":1.4},{"x":5.4,"y":3.5},{"x":8.1,"y":4},{"x":10.8,"y":1.4},{"x":13.5,"y":0},{"x":17.5,"y":0},{"x":21.6,"y":1.4},{"x":24.3,"y":2},{"x":29.7,"y":2},{"x":32.4,"y":3},{"x":35.1,"y":1},{"x":37.8,"y":2},{"x":40.5,"y":1},{"x":43.2,"y":0},{"x":49.9,"y":0},{"x":54,"y":1.4},{"x":56.7,"y":3},{"x":59.4,"y":5},{"x":63.4,"y":6},{"x":66.1,"y":5},{"x":68.8,"y":4},{"x":71.5,"y":5},{"x":74.2,"y":4.6},{"x":78.3,"y":5},{"x":81,"y":2},{"x":85,"y":3},{"x":87.7,"y":2.3},{"x":91.8,"y":4},{"x":94.5,"y":3},{"x":98.5,"y":0},{"x":101.2,"y":1.7},{"x":103.9,"y":5},{"x":106.6,"y":9},{"x":108.8,"y":9},{"x":110.7,"y":5},{"x":114.7,"y":4},{"x":118.8,"y":2},{"x":121.5,"y":1.4},{"x":125.5,"y":1},{"x":129.6,"y":0},{"x":135,"y":0},{"x":137.7,"y":3},{"x":140.4,"y":5},{"x":144.4,"y":4},{"x":148.5,"y":2},{"x":151.2,"y":1},{"x":156.6,"y":0},{"x":168.7,"y":0},{"x":178.2,"y":1.4},{"x":182.2,"y":2},{"x":186.3,"y":1.4},{"x":190.3,"y":0},{"x":201.1,"y":0},{"x":205.2,"y":2},{"x":209.2,"y":5},{"x":213.3,"y":3.5},{"x":217.3,"y":0},{"x":222.7,"y":0},{"x":225.4,"y":2},{"x":230.8,"y":1.4},{"x":234.9,"y":0},{"x":240.3,"y":1.4},{"x":244.3,"y":1},{"x":248.4,"y":4},{"x":251.1,"y":2},{"x":253.8,"y":1.4},{"x":256.5,"y":0}
    ]
  },
  "resolve": {"scale": {"x": "independent", "y": "independent", "color": "independent"}, "legend": {"color": "independent"}},
  "vconcat": [
    {
      "width": 1556,
      "height": 413,
      "title": {"text": "A", "dx": -188, "dy": 17, "offset": 0},
      "encoding": {
        "x": {"field": "x", "type": "quantitative", "scale": {"domain": [0, 7105], "nice": false, "zero": false},
          "axis": {"title": "Position in ORF1ab", "values": [0,250,500,750,1000,1250,1500,1750,2000,2250,2500,2750,3000,3250,3500,3750,4000,4250,4500,4750,5000,5250,5500,5750,6000,6250,6500,6750,7000], "format": "d", "labelExpr": "datum.value % 500 === 0 ? datum.label : ''", "tickSize": {"condition": {"test": "datum.value % 500 === 0", "value": 14}, "value": 8}, "labelFontSize": 29, "titleFontSize": 34, "labelPadding": 14, "titlePadding": 20}},
        "y": {"field": "y", "type": "quantitative", "scale": {"domain": [0, 40], "nice": false},
          "axis": {"title": "Epitope Assay Counts", "values": [0, 10, 20, 30, 40], "tickSize": 13, "labelFontSize": 29, "titleFontSize": 34, "labelPadding": 6, "titlePadding": 18}}
      },
      "layer": [
        {"data": {"name": "aNeg"}, "mark": {"type": "line", "interpolate": "step-after", "strokeWidth": 1.7},
          "encoding": {"color": {"datum": "negative", "type": "nominal", "scale": {"domain": ["positive", "negative"], "range": ["#148c14", "#000000"]},
            "legend": {"title": null, "orient": "none", "legendX": 760, "legendY": 21, "direction": "horizontal", "symbolType": "stroke", "symbolSize": 1849, "symbolStrokeWidth": 2.2, "labelFontSize": 33, "labelOffset": 24, "columnPadding": 58, "labelColor": "#000000"}}}},
        {"data": {"name": "aPos"}, "mark": {"type": "line", "interpolate": "step-after", "strokeWidth": 1.8},
          "encoding": {"color": {"datum": "positive", "type": "nominal"}}},
        {"data": {"values": [{"x": 1650, "y": 30, "label": "TTD"}]}, "mark": {"type": "point", "filled": true, "size": 320, "color": "#148c14", "opacity": 1}},
        {"data": {"values": [{"x": 1650, "y": 30, "label": "TTD"}]}, "mark": {"type": "text", "fontSize": 33, "fontWeight": "bold", "baseline": "alphabetic", "dy": -20, "color": "#000000"},
          "encoding": {"text": {"field": "label"}}}
      ]
    },
    {
      "bounds": "flush",
      "spacing": 221,
      "resolve": {"scale": {"x": "independent", "y": "independent", "color": "independent"}, "legend": {"color": "independent"}},
      "vconcat": [
        {
          "width": 1556,
          "height": 415,
          "title": {"text": "B", "dx": -188, "dy": -5, "offset": 0},
          "encoding": {
            "x": {"field": "x", "type": "quantitative", "scale": {"domain": [0, 1275], "nice": false, "zero": false},
              "axis": {"title": "Position in Spike glycoprotein", "values": [0,50,100,150,200,250,300,350,400,450,500,550,600,650,700,750,800,850,900,950,1000,1050,1100,1150,1200,1250], "format": "d", "labelExpr": "datum.value % 100 === 0 ? datum.label : ''", "tickSize": {"condition": {"test": "datum.value % 100 === 0", "value": 14}, "value": 8}, "labelFontSize": 29, "titleFontSize": 34, "labelPadding": 14, "titlePadding": 20}},
            "y": {"field": "y", "type": "quantitative", "scale": {"domain": [0, 80], "nice": false},
              "axis": {"title": "Epitope Assay Counts", "values": [0, 20, 40, 60, 80], "tickSize": 13, "labelFontSize": 29, "titleFontSize": 34, "labelPadding": 6, "titlePadding": 18}}
          },
          "layer": [
            {"data": {"name": "bNeg"}, "mark": {"type": "line", "strokeWidth": 1.6},
              "encoding": {"color": {"datum": "negative", "type": "nominal", "scale": {"domain": ["positive", "negative"], "range": ["#a62cee", "#000000"]},
                "legend": {"title": null, "orient": "none", "legendX": 771, "legendY": 6, "direction": "horizontal", "symbolType": "stroke", "symbolSize": 1849, "symbolStrokeWidth": 2.2, "labelFontSize": 33, "labelOffset": 24, "columnPadding": 58, "labelColor": "#000000"}}}},
            {"data": {"name": "bPos"}, "mark": {"type": "line", "strokeWidth": 1.6},
              "encoding": {"color": {"datum": "positive", "type": "nominal"}}},
            {"data": {"name": "bMarks"}, "mark": {"type": "point", "filled": true, "size": 340, "color": "#b650e8", "opacity": 1}},
            {"data": {"name": "bMarks"}, "mark": {"type": "text", "fontSize": 33, "fontWeight": "bold", "baseline": "alphabetic", "dy": -16, "color": "#000000"},
              "encoding": {"text": {"field": "label"}}}
          ]
        },
        {
          "bounds": "flush",
          "spacing": 187,
          "resolve": {"scale": {"x": "independent", "y": "independent", "color": "independent"}, "legend": {"color": "independent"}},
          "hconcat": [
            {
              "width": 574,
              "height": 350,
              "title": {"text": "C", "dx": -187, "dy": 4, "offset": 0},
              "encoding": {
                "x": {"field": "x", "type": "quantitative", "scale": {"domain": [0, 420], "range": [-17, 574], "nice": false, "zero": false},
                  "axis": {"title": "Position in Nucleoprotein", "values": [0,30,60,90,120,150,180,210,240,270,300,330,360,390,420], "format": "d", "labelExpr": "datum.value % 60 === 0 ? datum.label : ''", "tickSize": {"condition": {"test": "datum.value % 60 === 0", "value": 12}, "value": 7}, "labelFontSize": 26, "titleFontSize": 29, "labelPadding": 13, "titlePadding": 18}},
                "y": {"field": "y", "type": "quantitative", "scale": {"domain": [0, 60], "nice": false},
                  "axis": {"title": "Epitope Assay Counts", "values": [0, 20, 40, 60], "offset": 17, "tickSize": 11, "labelFontSize": 26, "titleFontSize": 29, "labelPadding": 5, "titlePadding": 15}}
              },
              "layer": [
                {"data": {"name": "cNeg"}, "mark": {"type": "line", "strokeWidth": 1.6},
                  "encoding": {"color": {"datum": "negative", "type": "nominal", "scale": {"domain": ["positive", "negative"], "range": ["#2ea2ba", "#000000"]},
                    "legend": {"title": null, "orient": "none", "legendX": 42, "legendY": -19, "direction": "horizontal", "symbolType": "stroke", "symbolSize": 1350, "symbolStrokeWidth": 2, "labelFontSize": 28, "labelOffset": 21, "columnPadding": 33, "labelColor": "#000000"}}}},
                {"data": {"name": "cPos"}, "mark": {"type": "line", "strokeWidth": 1.6},
                  "encoding": {"color": {"datum": "positive", "type": "nominal"}}},
                {"data": {"name": "cMarks"}, "mark": {"type": "point", "filled": true, "size": 320, "color": "#1a97ae", "opacity": 1}},
                {"data": {"name": "cMarks"}, "mark": {"type": "text", "fontSize": 28, "fontWeight": "bold", "baseline": "alphabetic", "dy": -13, "color": "#000000"},
                  "encoding": {"text": {"field": "label"}}}
              ]
            },
            {
              "bounds": "flush",
              "spacing": 236,
              "resolve": {"scale": {"x": "independent", "y": "independent", "color": "independent"}, "legend": {"color": "independent"}},
              "hconcat": [
                {
                  "width": 314,
                  "height": 350,
                  "title": {"text": "D", "dx": -157, "dy": 0, "offset": 0},
                  "encoding": {
                    "x": {"field": "x", "type": "quantitative", "scale": {"domain": [0, 225], "nice": false, "zero": false},
                      "axis": {"title": "Position in membrane protein", "values": [0,25,50,75,100,125,150,175,200,225], "format": "d", "labelExpr": "datum.value % 50 === 0 ? datum.label : ''", "tickSize": {"condition": {"test": "datum.value % 50 === 0", "value": 12}, "value": 7}, "labelFontSize": 26, "titleFontSize": 28.5, "labelPadding": 13, "titlePadding": 16}},
                    "y": {"field": "y", "type": "quantitative", "scale": {"domain": [0, 40], "nice": false},
                      "axis": {"title": "Epitope Assay Counts", "values": [0, 10, 20, 30, 40], "tickSize": 11, "labelFontSize": 26, "titleFontSize": 28.5, "labelPadding": 5, "titlePadding": 19}}
                  },
                  "layer": [
                    {"data": {"name": "dNeg"}, "mark": {"type": "line", "strokeWidth": 1.6},
                      "encoding": {"color": {"datum": "negative", "type": "nominal", "scale": {"domain": ["positive", "negative"], "range": ["#f5a03c", "#000000"]},
                        "legend": {"title": null, "orient": "none", "legendX": 12, "legendY": -2, "direction": "horizontal", "symbolType": "stroke", "symbolSize": 1350, "symbolStrokeWidth": 2, "labelFontSize": 28, "labelOffset": 21, "columnPadding": 23, "labelColor": "#000000"}}}},
                    {"data": {"name": "dPos"}, "mark": {"type": "line", "strokeWidth": 1.6},
                      "encoding": {"color": {"datum": "positive", "type": "nominal"}}},
                    {"data": {"values": [{"x": 96, "y": 28.5, "label": "GLM"}]}, "mark": {"type": "point", "filled": true, "size": 320, "color": "#f28b12", "opacity": 1}},
                    {"data": {"values": [{"x": 96, "y": 28.5, "label": "GLM"}]}, "mark": {"type": "text", "fontSize": 28, "fontWeight": "bold", "baseline": "alphabetic", "dy": -13, "color": "#000000"},
                      "encoding": {"text": {"field": "label"}}}
                  ]
                },
                {
                  "width": 382,
                  "height": 350,
                  "title": {"text": "E", "dx": -156, "dy": 0, "offset": 0},
                  "encoding": {
                    "x": {"field": "x", "type": "quantitative", "scale": {"domain": [0, 280], "nice": false, "zero": false},
                      "axis": {"title": "Position in ORF3a", "values": [0,35,70,105,140,175,210,245,280], "format": "d", "labelExpr": "datum.value % 70 === 0 ? datum.label : ''", "tickSize": {"condition": {"test": "datum.value % 70 === 0", "value": 12}, "value": 7}, "labelFontSize": 26, "titleFontSize": 28.5, "labelPadding": 13, "titlePadding": 16}},
                    "y": {"field": "y", "type": "quantitative", "scale": {"domain": [0, 60], "nice": false},
                      "axis": {"title": "Epitope Assay Counts", "values": [0, 20, 40, 60], "tickSize": 11, "labelFontSize": 26, "titleFontSize": 28.5, "labelPadding": 5, "titlePadding": 18}}
                  },
                  "layer": [
                    {"data": {"name": "eNeg"}, "mark": {"type": "line", "strokeWidth": 1.6},
                      "encoding": {"color": {"datum": "negative", "type": "nominal", "scale": {"domain": ["positive", "negative"], "range": ["#f25e5e", "#000000"]},
                        "legend": {"title": null, "orient": "none", "legendX": 26, "legendY": 4, "direction": "horizontal", "symbolType": "stroke", "symbolSize": 1400, "symbolStrokeWidth": 2, "labelFontSize": 28, "labelOffset": 21, "columnPadding": 36, "labelColor": "#000000"}}}},
                    {"data": {"name": "ePos"}, "mark": {"type": "line", "strokeWidth": 1.6},
                      "encoding": {"color": {"datum": "positive", "type": "nominal"}}},
                    {"data": {"values": [{"x": 211, "y": 40, "label": "FTS"}]}, "mark": {"type": "point", "filled": true, "size": 340, "color": "#ef3c3c", "opacity": 1}},
                    {"data": {"values": [{"x": 211, "y": 40, "label": "FTS"}]}, "mark": {"type": "text", "fontSize": 28, "fontWeight": "bold", "baseline": "alphabetic", "dy": -19, "color": "#000000"},
                      "encoding": {"text": {"field": "label"}}}
                  ]
                }
              ]
            }
          ]
        }
      ]
    }
  ]
}
